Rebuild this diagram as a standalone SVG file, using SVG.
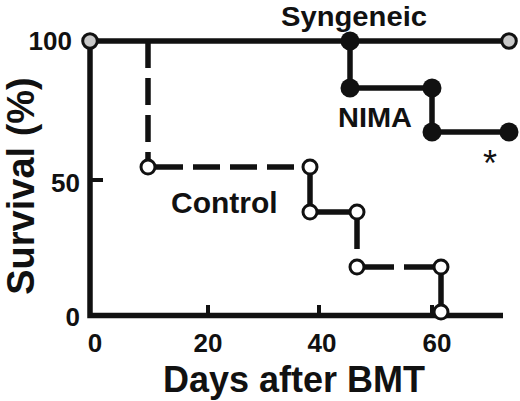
<svg xmlns="http://www.w3.org/2000/svg" width="520" height="401" viewBox="0 0 520 401">
<style>
.ln{stroke:#111;stroke-width:5.5;fill:none}
.tk{stroke:#111;stroke-width:4;fill:none}
.ds{stroke-dasharray:27 10}
.f{fill:#111}
.o{fill:#fff;stroke:#111;stroke-width:3}
.g{fill:#c8c8c8;stroke:#111;stroke-width:3}
text{font-family:"Liberation Sans",Arial,Helvetica,sans-serif;font-weight:bold;fill:#111}
.tl{font-size:26px;text-anchor:middle}
.yl{font-size:26px;text-anchor:end}
</style>
<rect width="520" height="401" fill="#fff"/>
<g id="axes">
<path class="ln" d="M90,40 V315.5 H503"/>
<path class="tk" d="M90,180 H103 M208,305 V315 M319,305 V315 M432,305 V315"/>
<text class="tl" x="95" y="352">0</text>
<text class="tl" x="208" y="352">20</text>
<text class="tl" x="322" y="352">40</text>
<text class="tl" x="437" y="352">60</text>
<text class="yl" x="72" y="50">100</text>
<text class="yl" x="80" y="192">50</text>
<text class="yl" x="80" y="326">0</text>
<text x="294" y="392" style="font-size:36px;text-anchor:middle">Days after BMT</text>
<text transform="translate(34,186) rotate(-90)" style="font-size:38px;text-anchor:middle">Survival (%)</text>
</g>
<g id="connectors">
<path class="ln" d="M90,41 H509"/>
<path class="ln" d="M350,41 V88 H432 V132 H509"/>
<path class="ln ds" d="M148,41 V167"/>
<path class="ln ds" d="M156,167 H310"/>
<path class="ln" d="M310,167 V212 H357 V249"/>
<path class="ln" d="M357,267 H394 M404,267 H441"/>
<path class="ln" d="M441,267 V312"/>
</g>
<g id="syngeneic">
<circle class="g" cx="90" cy="41" r="7.3"/>
<circle class="g" cx="509" cy="41" r="7.3"/>
<text x="281" y="26" style="font-size:28px" textLength="146" lengthAdjust="spacingAndGlyphs">Syngeneic</text>
</g>
<g id="nima">
<circle class="f" cx="350" cy="41" r="9.5"/>
<circle class="f" cx="350" cy="88" r="9.5"/>
<circle class="f" cx="432" cy="88" r="9.5"/>
<circle class="f" cx="432" cy="132" r="9.5"/>
<circle class="f" cx="509" cy="132" r="9.5"/>
<text x="338" y="127" style="font-size:28px" textLength="74" lengthAdjust="spacingAndGlyphs">NIMA</text>
<text x="490" y="176" style="font-size:36px;font-weight:normal;text-anchor:middle">*</text>
</g>
<g id="control">
<circle class="o" cx="148" cy="167" r="7"/>
<circle class="o" cx="310" cy="167" r="7"/>
<circle class="o" cx="310" cy="212" r="7"/>
<circle class="o" cx="357" cy="212" r="7"/>
<circle class="o" cx="357" cy="267" r="7"/>
<circle class="o" cx="441" cy="267" r="7"/>
<circle class="o" cx="441" cy="312" r="7"/>
<text x="171" y="213" style="font-size:30px">Control</text>
</g>
</svg>
